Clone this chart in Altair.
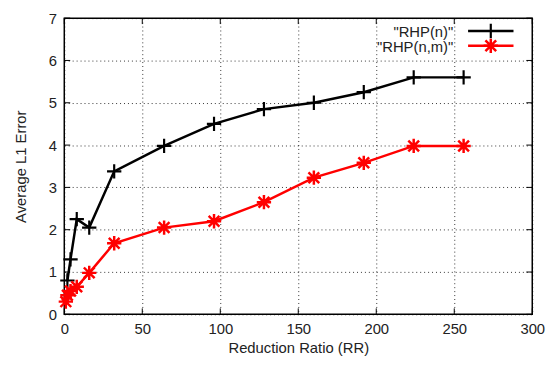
import altair as alt
import pandas as pd

# Data
rr_n = [2, 4, 8, 16, 32, 64, 96, 128, 160, 192, 224, 256]
rhp_n = [0.8, 1.3, 2.25, 2.05, 3.38, 3.98, 4.5, 4.85, 5.0, 5.25, 5.6, 5.6]
rr_nm = [1, 2, 4, 8, 16, 32, 64, 96, 128, 160, 192, 224, 256]
rhp_nm = [0.3, 0.45, 0.55, 0.65, 0.98, 1.68, 2.05, 2.2, 2.65, 3.23, 3.58, 3.98, 3.98]
series_names = ['"RHP(n)"', '"RHP(n,m)"']
series_colors = ["#000000", "#ff0000"]
x_ticks = [0, 50, 100, 150, 200, 250, 300]
y_ticks = [0, 1, 2, 3, 4, 5, 6, 7]

FONT = "Liberation Sans"
FS = 15
W, H = 474, 300

df_n = pd.DataFrame({"rr": rr_n, "err": rhp_n, "s": series_names[0]})
df_nm = pd.DataFrame({"rr": rr_nm, "err": rhp_nm, "s": series_names[1]})

xs = alt.Scale(domain=[0, 300], nice=False, zero=False)
ys = alt.Scale(domain=[0, 7], nice=False, zero=False)
X = alt.X("rr:Q", scale=xs, axis=alt.Axis(values=x_ticks, title="Reduction Ratio (RR)", titlePadding=5, labelPadding=7))
Y = alt.Y("err:Q", scale=ys, axis=alt.Axis(values=y_ticks, title="Average L1 Error", titlePadding=20, labelPadding=8))

plus = "M-1,0L1,0M0,-1L0,1"
star = "M-1,0L1,0M0,-1L0,1M-0.75,-0.75L0.75,0.75M-0.75,0.75L0.75,-0.75"
MS = 210

line_n = alt.Chart(df_n).mark_line(color=series_colors[0], strokeWidth=2.5).encode(x=X, y=Y)
pts_n = alt.Chart(df_n).mark_point(shape=plus, size=MS, stroke=series_colors[0], strokeWidth=2.2, filled=False, opacity=1).encode(x="rr:Q", y="err:Q")
line_nm = alt.Chart(df_nm).mark_line(color=series_colors[1], strokeWidth=2.5).encode(x="rr:Q", y="err:Q")
pts_nm = alt.Chart(df_nm).mark_point(shape=star, size=MS, stroke=series_colors[1], strokeWidth=2.5, filled=False, opacity=1).encode(x="rr:Q", y="err:Q")

# inward tick marks (gnuplot style, mirrored)
xt = pd.DataFrame({"v": x_ticks})
yt = pd.DataFrame({"v": y_ticks})
tb = alt.Chart(xt).mark_rule(color="black", strokeWidth=1).encode(x=alt.X("v:Q", scale=xs), y=alt.value(H), y2=alt.value(H - 6))
tt = alt.Chart(xt).mark_rule(color="black", strokeWidth=1).encode(x=alt.X("v:Q", scale=xs), y=alt.value(0), y2=alt.value(6))
tl = alt.Chart(yt).mark_rule(color="black", strokeWidth=1).encode(y=alt.Y("v:Q", scale=ys), x=alt.value(0), x2=alt.value(6))
tr = alt.Chart(yt).mark_rule(color="black", strokeWidth=1).encode(y=alt.Y("v:Q", scale=ys), x=alt.value(W), x2=alt.value(W - 6))

# legend (top right, label then sample)
leg_items = []
for i, (name, col) in enumerate(zip(series_names, series_colors)):
    yy = 13 + i * 15
    d = pd.DataFrame({"s": [name]})
    leg_items.append(alt.Chart(d).mark_text(align="right", baseline="middle", font=FONT, fontSize=FS, color="#222").encode(
        text="s:N", x=alt.value(394), y=alt.value(yy + 1)))
    leg_items.append(alt.Chart(d).mark_rule(color=col, strokeWidth=2.5).encode(
        x=alt.value(409), x2=alt.value(455), y=alt.value(yy)))
    leg_items.append(alt.Chart(d).mark_point(shape=plus if i == 0 else star, size=MS,
                                             stroke=col, strokeWidth=2.2 if i == 0 else 2.5, filled=False, opacity=1).encode(
        x=alt.value(432), y=alt.value(yy)))

chart = alt.layer(line_n, line_nm, pts_n, pts_nm, tb, tt, tl, tr, *leg_items).properties(
    width=W, height=H,
    autosize=alt.AutoSizeParams(type="none"),
    padding={"left": 57, "top": 8, "right": 20, "bottom": 45},
).configure_view(stroke="black", strokeWidth=1.5).configure_axis(
    domain=False, ticks=False, grid=True, gridColor="#000000", gridDash=[1, 3], gridOpacity=0.8, gridWidth=1,
    labelFont=FONT, labelFontSize=FS, labelColor="#222", labelFlush=False, labelOverlap=False,
    titleFont=FONT, titleFontSize=FS, titleFontWeight="normal", titleColor="#222",
)

chart.save("out.html", embed_options={"renderer": "svg", "actions": False})
